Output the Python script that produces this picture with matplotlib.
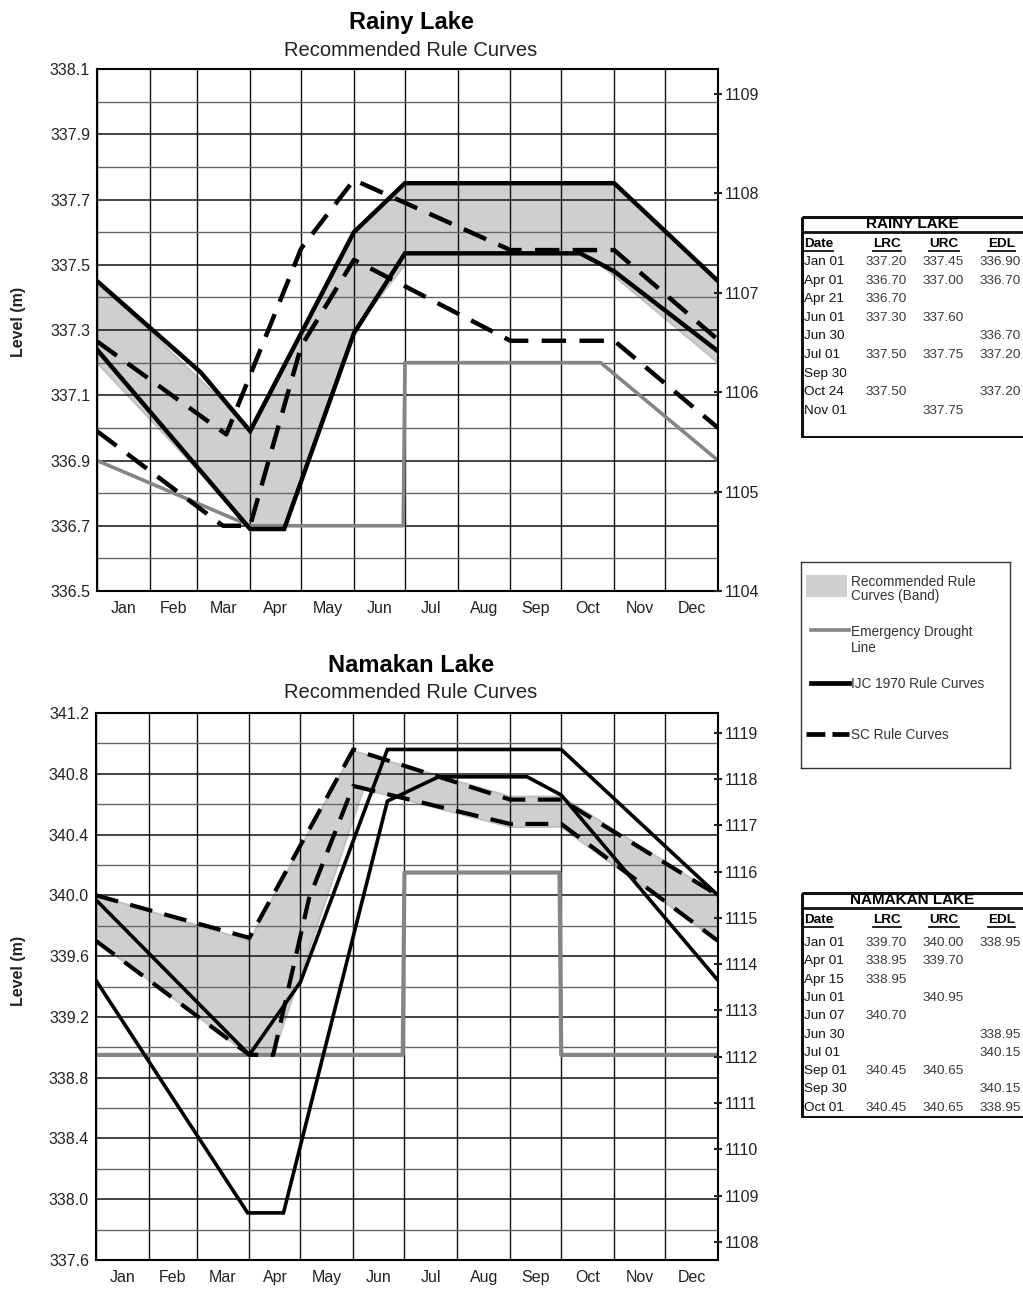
import numpy as np
import matplotlib.pyplot as plt
from matplotlib.patches import Rectangle
from matplotlib.lines import Line2D

plt.rcParams["font.family"] = ["Liberation Sans", "DejaVu Sans"]

W, H = 1023, 1289
M_TO_FT = 3.28084

MONTHS = ["Jan", "Feb", "Mar", "Apr", "May", "Jun", "Jul", "Aug", "Sep", "Oct", "Nov", "Dec"]
MONTH_START = [0, 31, 59, 90, 120, 151, 181, 212, 243, 273, 304, 334, 365]

# ---- Rainy Lake (x = day of year, Jan 01 = 0; level in m) ----
rainy_lrc_day = [0, 90, 110, 151, 181, 296, 365]
rainy_lrc = [337.20, 336.70, 336.70, 337.30, 337.50, 337.50, 337.20]
rainy_urc_day = [0, 90, 151, 181, 304, 365]
rainy_urc = [337.45, 337.00, 337.60, 337.75, 337.75, 337.45]
rainy_edl_day = [0, 90, 180, 181, 296, 365]
rainy_edl = [336.90, 336.70, 336.70, 337.20, 337.20, 336.90]
rainy_ijc_up_day = [0, 61, 90, 151, 181, 304, 365]
rainy_ijc_up = [337.45, 337.17, 336.99, 337.60, 337.75, 337.75, 337.45]
rainy_ijc_lo_day = [0, 90, 110, 151, 181, 284, 304, 365]
rainy_ijc_lo = [337.24, 336.69, 336.69, 337.29, 337.535, 337.535, 337.48, 337.235]
rainy_sc_up_day = [0, 76, 120, 151, 243, 304, 365]
rainy_sc_up = [337.265, 336.98, 337.55, 337.76, 337.545, 337.545, 337.27]
rainy_sc_lo_day = [0, 74, 90, 120, 151, 243, 304, 365]
rainy_sc_lo = [336.99, 336.70, 336.70, 337.25, 337.515, 337.267, 337.267, 337.00]

# ---- Namakan Lake ----
nam_lrc_day = [0, 90, 104, 157, 243, 273, 365]
nam_lrc = [339.70, 338.95, 338.95, 340.70, 340.45, 340.45, 339.70]
nam_urc_day = [0, 90, 151, 243, 273, 365]
nam_urc = [340.00, 339.70, 340.95, 340.65, 340.65, 340.00]
nam_edl_day = [0, 180, 181, 272, 273, 365]
nam_edl = [338.95, 338.95, 340.15, 340.15, 338.95, 338.95]
nam_ijc_a_day = [0, 89, 110, 171, 201, 253, 273, 365]
nam_ijc_a = [339.44, 337.91, 337.91, 340.62, 340.78, 340.78, 340.66, 339.44]
nam_ijc_b_day = [0, 90, 120, 171, 273, 365]
nam_ijc_b = [339.97, 338.95, 339.43, 340.96, 340.96, 340.00]
nam_sc_up_day = [0, 90, 151, 243, 273, 365]
nam_sc_up = [340.00, 339.72, 340.96, 340.63, 340.63, 340.00]
nam_sc_lo_day = [0, 90, 104, 125, 151, 243, 273, 365]
nam_sc_lo = [339.70, 338.95, 338.95, 339.98, 340.72, 340.47, 340.47, 339.70]

# ---- tables ----
rainy_table = [
    ("Jan 01", "337.20", "337.45", "336.90"),
    ("Apr 01", "336.70", "337.00", "336.70"),
    ("Apr 21", "336.70", "", ""),
    ("Jun 01", "337.30", "337.60", ""),
    ("Jun 30", "", "", "336.70"),
    ("Jul 01", "337.50", "337.75", "337.20"),
    ("Sep 30", "", "", ""),
    ("Oct 24", "337.50", "", "337.20"),
    ("Nov 01", "", "337.75", ""),
]
namakan_table = [
    ("Jan 01", "339.70", "340.00", "338.95"),
    ("Apr 01", "338.95", "339.70", ""),
    ("Apr 15", "338.95", "", ""),
    ("Jun 01", "", "340.95", ""),
    ("Jun 07", "340.70", "", ""),
    ("Jun 30", "", "", "338.95"),
    ("Jul 01", "", "", "340.15"),
    ("Sep 01", "340.45", "340.65", ""),
    ("Sep 30", "", "", "340.15"),
    ("Oct 01", "340.45", "340.65", "338.95"),
]

BAND = "#cfcfcf"
EDL = "#858585"
SC_DASH = (0, (5.5, 3.0))
TXT = "#222222"


def px_axes(fig, x0, y0, x1, y1):
    return fig.add_axes([x0 / W, 1 - y1 / H, (x1 - x0) / W, (y1 - y0) / H])


def setup_chart(ax, ylim, major, minor, ft_ticks):
    ax.set_xlim(0, 365)
    ax.set_ylim(*ylim)
    ax.set_xticks(MONTH_START)
    ax.set_xticklabels([])
    centers = [(a + b) / 2 for a, b in zip(MONTH_START[:-1], MONTH_START[1:])]
    ax.set_xticks(centers, minor=True)
    ax.set_xticklabels(MONTHS, minor=True)
    ax.tick_params(axis="x", which="both", length=0, labelsize=11.5, pad=7, colors=TXT)
    ax.set_yticks(major)
    ax.set_yticklabels([f"{v:.1f}" for v in major])
    ax.set_yticks(minor, minor=True)
    ax.tick_params(axis="y", which="both", length=0, labelsize=11.5, pad=5, colors=TXT)
    ax.grid(axis="x", which="major", color="#111111", lw=1.0)
    ax.grid(axis="y", which="major", color="#111111", lw=1.1)
    ax.grid(axis="y", which="minor", color="#666666", lw=1.0)
    for s in ax.spines.values():
        s.set_linewidth(1.5)
    ax2 = ax.twinx()
    ax2.set_ylim(ylim[0] * M_TO_FT, ylim[1] * M_TO_FT)
    ax2.set_yticks(ft_ticks)
    ax2.tick_params(axis="y", direction="inout", length=6, width=1.5, labelsize=11.5, pad=2,
                    colors=TXT)
    for s in ax2.spines.values():
        s.set_visible(False)


def draw_band(ax, lo_d, lo, up_d, up):
    xs = list(up_d) + list(lo_d)[::-1]
    ys = list(up) + list(lo)[::-1]
    ax.fill(xs, ys, facecolor=BAND, edgecolor="#c2c2c2", lw=1.5, zorder=0.3)


fig = plt.figure(figsize=(W / 100, H / 100), dpi=100)

# ---------------- Rainy Lake ----------------
ax = px_axes(fig, 97, 69, 718, 591)
setup_chart(ax, (336.5, 338.1),
            np.round(np.arange(336.5, 338.11, 0.2), 1),
            np.round(np.arange(336.6, 338.1, 0.2), 1),
            [1104, 1105, 1106, 1107, 1108, 1109])
draw_band(ax, rainy_lrc_day, rainy_lrc, rainy_urc_day, rainy_urc)
ax.plot(rainy_edl_day, rainy_edl, color=EDL, lw=2.6, zorder=2)
ax.plot(rainy_ijc_up_day, rainy_ijc_up, color="black", lw=3.2, zorder=3, solid_joinstyle="miter")
ax.plot(rainy_ijc_lo_day, rainy_ijc_lo, color="black", lw=3.2, zorder=3, solid_joinstyle="miter")
ax.plot(rainy_sc_up_day, rainy_sc_up, color="black", lw=3.2, ls=SC_DASH, zorder=4)
ax.plot(rainy_sc_lo_day, rainy_sc_lo, color="black", lw=3.2, ls=SC_DASH, zorder=4)

fig.text(411 / W, 1 - 23 / H, "Rainy Lake", ha="center", va="center", fontsize=17, weight="bold")
fig.text(411 / W, 1 - 50 / H, "Recommended Rule Curves", ha="center", va="center", fontsize=14.5,
         color=TXT)
fig.text(18 / W, 1 - 322 / H, "Level (m)", ha="center", va="center", rotation=90, fontsize=11.5,
         weight="bold", color=TXT)

# ---------------- Namakan Lake ----------------
bx = px_axes(fig, 96, 713, 718, 1260)
setup_chart(bx, (337.6, 341.2),
            np.round(np.arange(337.6, 341.21, 0.4), 1),
            np.round(np.arange(337.8, 341.2, 0.4), 1),
            list(range(1108, 1120)))
draw_band(bx, nam_lrc_day, nam_lrc, nam_urc_day, nam_urc)
bx.plot(nam_edl_day, nam_edl, color=EDL, lw=3.0, zorder=2)
bx.plot(nam_ijc_a_day, nam_ijc_a, color="black", lw=2.6, zorder=3, solid_joinstyle="miter")
bx.plot(nam_ijc_b_day, nam_ijc_b, color="black", lw=2.6, zorder=3, solid_joinstyle="miter")
bx.plot(nam_sc_up_day, nam_sc_up, color="black", lw=3.0, ls=SC_DASH, zorder=4)
bx.plot(nam_sc_lo_day, nam_sc_lo, color="black", lw=3.0, ls=SC_DASH, zorder=4)

fig.text(411 / W, 1 - 665 / H, "Namakan Lake", ha="center", va="center", fontsize=17, weight="bold")
fig.text(411 / W, 1 - 692 / H, "Recommended Rule Curves", ha="center", va="center", fontsize=14.5,
         color=TXT)
fig.text(18 / W, 1 - 971 / H, "Level (m)", ha="center", va="center", rotation=90, fontsize=11.5,
         weight="bold", color=TXT)

# ---------------- legend box ----------------
lg = px_axes(fig, 801, 562, 1010, 768)
lg.set_xlim(801, 1010)
lg.set_ylim(768, 562)
lg.set_xticks([])
lg.set_yticks([])
for s in lg.spines.values():
    s.set_linewidth(1.0)
    s.set_color("#333333")
lg.add_patch(Rectangle((806, 575), 41, 22, facecolor=BAND, edgecolor="none"))
lg.add_line(Line2D([811, 849], [630, 630], color=EDL, lw=2.6))
lg.add_line(Line2D([811, 849], [683, 683], color="black", lw=3.4))
lg.add_line(Line2D([806, 849], [734, 734], color="black", lw=3.4, ls=(0, (4.0, 1.5))))
leg_kw = dict(fontsize=9.8, color="#333333", va="center", ha="left")
lg.text(851, 582, "Recommended Rule", **leg_kw)
lg.text(851, 596, "Curves (Band)", **leg_kw)
lg.text(851, 632, "Emergency Drought", **leg_kw)
lg.text(851, 648, "Line", **leg_kw)
lg.text(851, 684, "IJC 1970 Rule Curves", **leg_kw)
lg.text(851, 735, "SC Rule Curves", **leg_kw)


# ---------------- tables ----------------
def draw_table(y_top, y_bot, title, rows, row0, step):
    t = px_axes(fig, 801, y_top, 1040, y_bot)
    t.set_xlim(801, 1040)
    t.set_ylim(y_bot, y_top)
    t.axis("off")
    t.add_patch(Rectangle((802, y_top + 1), 236, y_bot - y_top - 2, fill=False, lw=2.2,
                          edgecolor="#111111"))
    t.add_line(Line2D([802, 1038], [y_top + 16, y_top + 16], color="#111111", lw=2.0))
    t.text(912, y_top + 8.5, title, ha="center", va="center", fontsize=11, weight="bold")
    hy = y_top + 28
    heads = [(804, "Date", "left"), (887, "LRC", "center"), (944, "URC", "center"),
             (1002, "EDL", "center")]
    txts = []
    for x, lab, ha in heads:
        txts.append(t.text(x, hy, lab, ha=ha, va="center", fontsize=9.7, weight="bold"))
    for i, (d, lrc, urc, edl) in enumerate(rows):
        y = row0 + i * step
        t.text(804, y, d, ha="left", va="center", fontsize=9.7, color="#111111")
        for x, v in ((866, lrc), (923, urc), (980, edl)):
            if v:
                t.text(x, y, v, ha="left", va="center", fontsize=9.7, color="#3a3a3a")
    return t, txts, hy


tables = [
    draw_table(216, 438, "RAINY LAKE", rainy_table, 262, 18.6),
    draw_table(892, 1118, "NAMAKAN LAKE", namakan_table, 943, 18.3),
]

# underline the column headers
fig.canvas.draw()
rend = fig.canvas.get_renderer()
for t, txts, hy in tables:
    for tx in txts:
        bb = tx.get_window_extent(rend).transformed(t.transData.inverted())
        t.add_line(Line2D([bb.x0, bb.x1], [hy + 6.5, hy + 6.5], color="#111111", lw=1.3))

fig.savefig("out.png", dpi=100)
